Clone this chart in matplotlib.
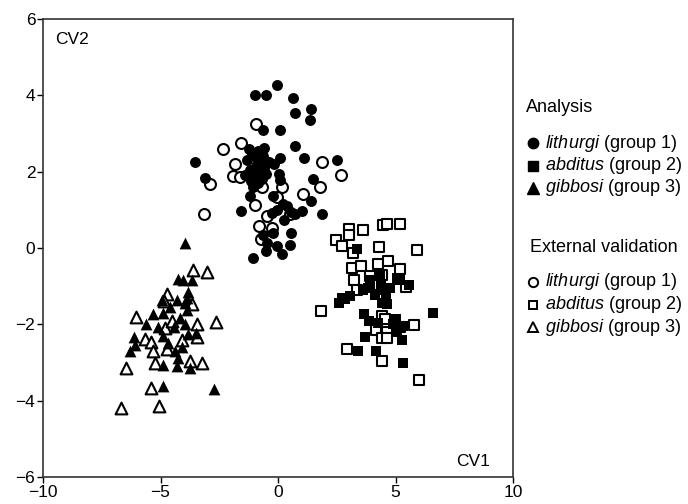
import matplotlib
matplotlib.use('Agg')
import matplotlib.pyplot as plt
from matplotlib.lines import Line2D

plt.rcParams['font.family'] = ['Liberation Sans', 'DejaVu Sans']
plt.rcParams['mathtext.fontset'] = 'custom'
plt.rcParams['mathtext.it'] = 'Liberation Sans:italic'
plt.rcParams['mathtext.rm'] = 'Liberation Sans'

# lithurgi (group 1), analysis
lit_a_x = [-0.06, -0.98, -0.51, 0.63, 1.39, 0.72, 1.36, -0.63, 0.09, -0.60, 0.72, 1.11,
           -3.53, 0.09, -0.17, -3.11, 0.06, 1.50, -1.19, -1.57, -0.23, 0.20, -0.06, -0.27,
           0.26, 0.72, 1.01, 1.40, 1.86, 0.55, 0.51, -0.65, -0.23, -0.46, -0.06, -0.51,
           0.16, -1.08, 2.50, -1.30, -1.10, -0.90, -0.75, -1.20, -1.00, -0.80, -0.60,
           -1.40, -0.95, -0.70, -1.15, -0.50, -0.85, -1.25, -0.65, -1.05, -0.40, 0.40,
           0.55, -0.85, 0.09]
lit_a_y = [4.26, 4.02, 4.00, 3.93, 3.65, 3.53, 3.36, 3.10, 3.10, 2.62, 2.68, 2.36,
           2.25, 2.36, 2.20, 1.83, 1.94, 1.82, 1.35, 0.96, 1.35, 1.15, 1.00, 0.92,
           0.74, 0.89, 0.96, 1.24, 0.89, 0.39, 0.09, 0.35, 0.39, 0.13, 0.04, -0.07,
           -0.16, -0.25, 2.30, 2.30, 2.50, 2.35, 2.20, 2.05, 1.95, 2.00, 2.10,
           1.90, 2.15, 1.80, 1.75, 1.95, 2.55, 2.60, 2.40, 1.60, 2.25, 1.10,
           0.95, 1.71, 1.79]

# abditus (group 2), analysis
abd_a_x = [3.35, 3.91, 5.05, 5.59, 4.77, 3.84, 4.13, 3.06, 2.71, 2.61, 2.85, 4.65,
           4.41, 3.66, 3.89, 4.27, 6.58, 5.33, 5.08, 3.70, 5.26, 3.42, 4.17, 5.33,
           4.40, 4.60, 5.20, 3.60, 4.90, 5.00, 4.35, 4.55]
abd_a_y = [-0.03, -0.83, -0.79, -0.96, -1.05, -1.05, -1.22, -1.27, -1.31, -1.44, -1.34, -1.46,
           -1.44, -1.72, -1.90, -1.97, -1.69, -2.04, -2.21, -2.33, -2.42, -2.71, -2.71, -3.01,
           -0.95, -1.20, -0.85, -1.10, -2.00, -1.85, -0.70, -1.10]

# gibbosi (group 3), analysis
gib_a_x = [-3.96, -4.24, -4.03, -3.67, -3.82, -4.31, -4.95, -3.89, -3.96, -5.33, -4.88,
           -4.17, -3.86, -5.09, -4.43, -6.11, -4.88, -3.82, -3.49, -6.09, -6.30, -4.38,
           -4.24, -4.88, -4.31, -3.74, -4.88, -2.72, -4.60, -4.70, -5.60, -3.95, -4.10]
gib_a_y = [0.13, -0.81, -0.83, -0.83, -1.14, -1.36, -1.37, -1.31, -1.44, -1.72, -1.70,
           -1.83, -1.62, -2.06, -2.06, -2.32, -2.30, -2.25, -2.23, -2.53, -2.71, -2.71,
           -2.88, -3.06, -3.10, -3.15, -3.61, -3.70, -1.55, -2.50, -2.00, -2.00, -2.60]

# external validation
lit_v_x = [-0.94, -2.33, -1.57, -1.83, 1.86, -2.89, -1.90, -1.62, -0.69, 0.16, 1.05,
           1.79, -0.98, -0.06, -0.48, 0.51, -3.15, -0.80, -0.27, -0.74, 2.70]
lit_v_y = [3.25, 2.60, 2.75, 2.20, 2.25, 1.68, 1.88, 1.85, 1.61, 1.61, 1.42,
           1.61, 1.12, 1.33, 0.83, 0.89, 0.89, 0.57, 0.52, 0.24, 1.90]

abd_v_x = [3.03, 3.03, 3.63, 4.48, 4.65, 5.19, 2.47, 2.71, 3.18, 4.31, 5.90, 3.14,
           3.52, 4.27, 4.67, 5.19, 3.91, 4.41, 3.23, 4.30, 3.37, 5.45, 1.82, 4.41,
           4.55, 5.19, 5.79, 4.17, 4.65, 4.41, 4.65, 2.92, 4.41, 6.01]
abd_v_y = [0.50, 0.35, 0.46, 0.61, 0.64, 0.64, 0.22, 0.06, -0.12, 0.03, -0.06, -0.52,
           -0.48, -0.41, -0.35, -0.55, -0.73, -0.70, -0.85, -0.96, -1.09, -1.01, -1.66, -1.79,
           -1.86, -2.06, -2.01, -2.16, -2.21, -2.36, -2.36, -2.65, -2.95, -3.45]

gib_v_x = [-3.63, -3.03, -4.74, -3.67, -4.85, -6.04, -3.46, -2.65, -4.81, -5.66, -5.40,
           -3.43, -4.10, -5.31, -4.74, -6.47, -5.23, -3.74, -3.22, -5.40, -5.05, -6.69, -4.50]
gib_v_y = [-0.57, -0.64, -1.20, -1.46, -1.40, -1.81, -1.98, -1.95, -2.10, -2.39, -2.45,
           -2.33, -2.42, -2.71, -2.65, -3.15, -3.01, -2.97, -3.01, -3.67, -4.13, -4.19, -1.90]

species = ['lithurgi', 'abditus', 'gibbosi']
groups = ['group 1', 'group 2', 'group 3']

W, H = 688, 504
fig = plt.figure(figsize=(W / 100, H / 100), dpi=100)
ax = fig.add_axes([43 / W, 1 - 477 / H, 470 / W, 458 / H])

ms = {'o': 62, 's': 52, '^': 72}
ax.scatter(lit_v_x, lit_v_y, marker='o', s=ms['o'], facecolor='white', edgecolor='black', linewidth=1.5, zorder=2)
ax.scatter(abd_v_x, abd_v_y, marker='s', s=ms['s'], facecolor='white', edgecolor='black', linewidth=1.5, zorder=2)
ax.scatter(gib_v_x, gib_v_y, marker='^', s=ms['^'], facecolor='white', edgecolor='black', linewidth=1.5, zorder=2)
ax.scatter(lit_a_x, lit_a_y, marker='o', s=ms['o'], color='black', linewidth=0, zorder=3)
ax.scatter(abd_a_x, abd_a_y, marker='s', s=ms['s'], color='black', linewidth=0, zorder=3)
ax.scatter(gib_a_x, gib_a_y, marker='^', s=ms['^'], color='black', linewidth=0, zorder=3)

ax.set_xlim(-10, 10)
ax.set_ylim(-6, 6)
ax.set_xticks([-10, -5, 0, 5, 10])
ax.set_yticks([-6, -4, -2, 0, 2, 4, 6])
ax.tick_params(direction='out', length=4, width=1, labelsize=12.5, colors='black', pad=1.5)
for s in ax.spines.values():
    s.set_color('#333333')
    s.set_linewidth(1.2)

ax.text(0.026, 0.955, 'CV2', transform=ax.transAxes, fontsize=12.5, ha='left', va='center')
ax.text(0.952, 0.033, 'CV1', transform=ax.transAxes, fontsize=12.5, ha='right', va='center')

# legend, drawn by hand in figure pixels
def fx(px):
    return px / W

def fy(py):
    return 1 - py / H

fs = 13
fig.text(fx(526), fy(107), 'Analysis', fontsize=fs, ha='left', va='center')
fig.text(fx(530), fy(247), 'External validation', fontsize=fs, ha='left', va='center')
rows_a = [143, 165.5, 188]
rows_v = [282, 304.5, 327]
mk = [('o', 7.5), ('s', 7), ('^', 8.5)]
for i, (m, sz) in enumerate(mk):
    label = r'$\it{%s}$ (%s)' % (species[i], groups[i])
    fig.add_artist(Line2D([fx(533)], [fy(rows_a[i])], transform=fig.transFigure, ls='none',
                          marker=m, markersize=sz, color='black'))
    fig.text(fx(545), fy(rows_a[i]), label, fontsize=fs, ha='left', va='center')
    fig.add_artist(Line2D([fx(533)], [fy(rows_v[i])], transform=fig.transFigure, ls='none',
                          marker=m, markersize=sz - 0.8, markerfacecolor='white',
                          markeredgecolor='black', markeredgewidth=1.4))
    fig.text(fx(545), fy(rows_v[i]), label, fontsize=fs, ha='left', va='center')

fig.savefig('out.png', dpi=100, facecolor='white')
